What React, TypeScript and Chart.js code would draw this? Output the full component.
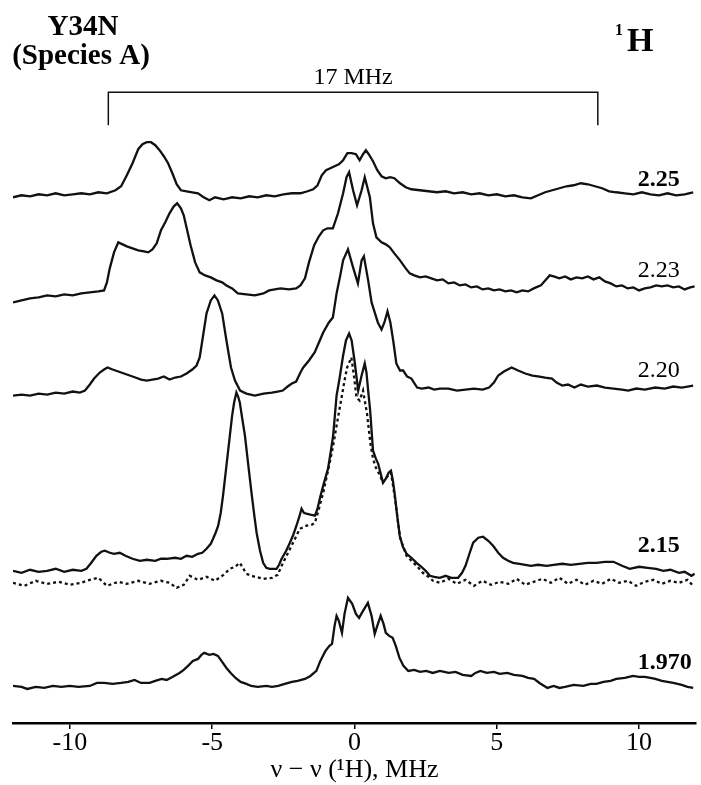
import { useEffect, useRef } from "react";
import { Chart, registerables } from "chart.js";
Chart.register(...registerables);

const FONT = '"Liberation Serif", "Times New Roman", serif';
const X_MIN = -12;
const X_MAX = 12;
const X_TICKS = [-10, -5, 0, 5, 10];

// spectra: [frequency offset (MHz), intensity (a.u.)]
const TRACE_225: [number, number][] = [[-12,-2],[-11.7,0],[-11.4,-1],[-11.1,1],[-10.8,0],[-10.5,2],[-10.2,0],[-9.9,1],[-9.6,2],[-9.3,1],[-9.0,3],[-8.7,2],[-8.4,5],[-8.2,9],[-8.0,20],[-7.8,32],[-7.6,46],[-7.45,51],[-7.3,53],[-7.15,53],[-7.0,50],[-6.85,45],[-6.7,39],[-6.55,32],[-6.4,22],[-6.25,11],[-6.1,5],[-5.9,4],[-5.7,3],[-5.5,2],[-5.3,-2],[-5.1,-5],[-4.9,-2],[-4.6,-4],[-4.3,-2],[-4.0,-3],[-3.7,-1],[-3.4,-2],[-3.1,0],[-2.8,-1],[-2.5,1],[-2.2,2],[-1.9,2],[-1.65,4],[-1.45,6],[-1.3,10],[-1.15,20],[-1.0,25],[-0.85,27],[-0.7,29],[-0.55,31],[-0.4,35],[-0.25,42],[-0.1,42],[0.05,41],[0.18,35],[0.3,41],[0.4,45],[0.5,41],[0.65,34],[0.8,25],[0.95,19],[1.1,17],[1.25,18],[1.4,17],[1.6,12],[1.8,8],[2.0,6],[2.3,5],[2.6,4],[2.9,3],[3.2,4],[3.5,2],[3.8,3],[4.1,1],[4.4,2],[4.7,0],[5.0,1],[5.3,-1],[5.6,0],[5.9,-2],[6.2,-3],[6.45,0],[6.7,3],[6.95,5],[7.2,7],[7.45,9],[7.7,10],[7.95,12],[8.2,11],[8.45,9],[8.7,7],[8.95,4],[9.2,3],[9.5,2],[9.8,1],[10.1,3],[10.4,1],[10.7,0],[11.0,2],[11.3,0],[11.6,1],[11.9,3]];

const TRACE_223: [number, number][] = [[-12,-10],[-11.7,-8],[-11.4,-6],[-11.1,-5],[-10.8,-3],[-10.5,-4],[-10.2,-2],[-9.9,-3],[-9.6,-1],[-9.3,0],[-9.0,1],[-8.8,2],[-8.7,10],[-8.6,24],[-8.45,40],[-8.3,50],[-8.15,48],[-8.0,46],[-7.8,44],[-7.6,42],[-7.4,41],[-7.25,40],[-7.1,43],[-6.95,49],[-6.8,62],[-6.65,70],[-6.5,79],[-6.35,86],[-6.23,89],[-6.1,84],[-6.0,77],[-5.88,62],[-5.76,47],[-5.6,30],[-5.44,20],[-5.25,17],[-5.05,15],[-4.85,12],[-4.65,10],[-4.5,7],[-4.3,4],[-4.1,-1],[-3.8,-2],[-3.5,-3],[-3.2,-1],[-3.0,2],[-2.8,3],[-2.6,4],[-2.3,3],[-2.05,4],[-1.9,7],[-1.74,14],[-1.6,30],[-1.42,47],[-1.25,56],[-1.1,62],[-0.95,64],[-0.76,64],[-0.58,79],[-0.4,99],[-0.28,115],[-0.19,120],[-0.05,102],[0.09,87],[0.25,102],[0.36,115],[0.54,95],[0.65,69],[0.77,55],[0.95,50],[1.1,48],[1.24,45],[1.4,39],[1.6,32],[1.8,24],[1.94,19],[2.1,17],[2.3,15],[2.5,16],[2.7,14],[2.9,12],[3.1,13],[3.3,9],[3.5,10],[3.7,7],[3.9,8],[4.1,5],[4.3,6],[4.5,3],[4.7,4],[4.9,2],[5.1,3],[5.3,1],[5.5,2],[5.7,0],[5.9,2],[6.1,1],[6.3,4],[6.55,7],[6.7,12],[6.86,17],[7.0,16],[7.2,14],[7.4,16],[7.6,13],[7.8,15],[8.0,14],[8.2,16],[8.4,13],[8.6,15],[8.8,11],[9.0,9],[9.2,6],[9.4,7],[9.6,4],[9.8,5],[10.0,2],[10.2,4],[10.4,5],[10.6,7],[10.8,6],[11.0,7],[11.2,5],[11.4,6],[11.6,3],[11.8,5],[11.95,6]];

const TRACE_220: [number, number][] = [[-12,-5],[-11.7,-4],[-11.4,-5],[-11.1,-3],[-10.8,-4],[-10.5,-2],[-10.2,-3],[-9.9,-1],[-9.65,-2],[-9.47,0],[-9.3,6],[-9.15,12],[-8.95,18],[-8.8,21],[-8.68,23],[-8.5,21],[-8.3,19],[-8.1,17],[-7.9,15],[-7.7,13],[-7.5,11],[-7.3,10],[-7.1,11],[-6.9,12],[-6.7,14],[-6.5,11],[-6.3,13],[-6.1,14],[-5.9,17],[-5.7,21],[-5.55,25],[-5.44,33],[-5.32,55],[-5.2,77],[-5.05,90],[-4.92,95],[-4.8,90],[-4.65,77],[-4.5,50],[-4.34,23],[-4.2,10],[-4.02,0],[-3.8,-3],[-3.5,-5],[-3.2,-3],[-2.9,-2],[-2.7,-1],[-2.52,0],[-2.35,4],[-2.2,7],[-2.05,9],[-1.9,18],[-1.8,23],[-1.6,30],[-1.4,38],[-1.25,48],[-1.1,58],[-0.9,68],[-0.76,73],[-0.63,97],[-0.5,115],[-0.4,130],[-0.23,141],[-0.05,123],[0.12,107],[0.25,130],[0.33,134],[0.48,110],[0.6,88],[0.71,78],[0.82,68],[0.95,61],[1.05,68],[1.16,79],[1.26,68],[1.36,50],[1.47,27],[1.6,20],[1.71,20],[1.85,14],[2.0,12],[2.2,3],[2.37,2],[2.6,3],[2.8,1],[3.0,2],[3.3,2],[3.6,0],[3.9,1],[4.2,2],[4.5,1],[4.73,3],[4.9,8],[5.05,15],[5.25,19],[5.52,23],[5.75,20],[6.0,17],[6.25,15],[6.5,14],[6.7,13],[6.94,12],[7.1,8],[7.3,5],[7.5,6],[7.73,3],[7.95,6],[8.2,4],[8.52,5],[8.8,3],[9.1,2],[9.4,1],[9.62,0],[9.9,2],[10.2,1],[10.57,3],[10.9,2],[11.2,4],[11.5,3],[11.9,5]];

const TRACE_215: [number, number][] = [[-12,0],[-11.7,-2],[-11.4,1],[-11.1,-1],[-10.8,0],[-10.5,2],[-10.2,-1],[-9.9,1],[-9.6,0],[-9.42,2],[-9.25,8],[-9.07,15],[-8.9,19],[-8.77,20],[-8.6,18],[-8.45,17],[-8.25,18],[-8.05,15],[-7.8,12],[-7.54,10],[-7.3,11],[-7.0,10],[-6.8,12],[-6.6,12],[-6.3,13],[-6.1,12],[-5.9,15],[-5.7,14],[-5.5,17],[-5.35,18],[-5.2,22],[-5.05,27],[-4.97,32],[-4.88,38],[-4.79,45],[-4.7,58],[-4.62,75],[-4.5,105],[-4.38,135],[-4.3,155],[-4.23,168],[-4.15,178],[-4.09,174],[-4.03,168],[-3.95,153],[-3.85,135],[-3.73,105],[-3.62,78],[-3.52,55],[-3.44,38],[-3.32,20],[-3.21,8],[-3.1,3],[-2.98,2],[-2.74,2],[-2.65,6],[-2.56,12],[-2.4,20],[-2.27,28],[-2.15,36],[-2.04,45],[-1.95,53],[-1.86,62],[-1.78,58],[-1.69,57],[-1.55,56],[-1.39,55],[-1.3,62],[-1.22,72],[-1.08,87],[-0.93,102],[-0.84,118],[-0.75,135],[-0.69,155],[-0.63,175],[-0.52,193],[-0.4,215],[-0.3,230],[-0.19,237],[-0.1,230],[0.0,210],[0.13,180],[0.25,195],[0.36,207],[0.42,198],[0.48,180],[0.55,160],[0.6,140],[0.65,120],[0.75,112],[0.83,107],[0.92,97],[1.0,88],[1.1,92],[1.2,98],[1.28,100],[1.35,90],[1.42,75],[1.5,55],[1.59,35],[1.7,24],[1.83,17],[2.0,13],[2.18,8],[2.35,4],[2.5,0],[2.65,-5],[2.8,-6],[3.0,-7],[3.2,-5],[3.4,-7],[3.64,-7],[3.78,-2],[3.9,5],[4.05,18],[4.17,28],[4.35,33],[4.52,34],[4.7,30],[4.87,25],[5.05,18],[5.22,13],[5.4,10],[5.57,8],[5.8,7],[6.0,6],[6.2,5],[6.45,6],[6.75,5],[7.0,6],[7.3,7],[7.6,6],[7.9,7],[8.2,8],[8.5,8],[8.8,9],[9.1,9],[9.4,5],[9.67,2],[10.0,4],[10.3,3],[10.6,2],[10.85,0],[11.1,1],[11.4,-2],[11.6,-1],[11.84,-5],[11.95,-3]];

const TRACE_215_DOTTED: [number, number][] = [[-12,-12],[-11.6,-15],[-11.2,-10],[-10.8,-13],[-10.4,-11],[-10.0,-14],[-9.6,-12],[-9.3,-9],[-9.0,-7],[-8.7,-15],[-8.3,-11],[-8.0,-13],[-7.6,-10],[-7.2,-13],[-6.8,-10],[-6.5,-12],[-6.25,-17],[-6.0,-14],[-5.79,-5],[-5.5,-9],[-5.2,-6],[-4.9,-10],[-4.6,-4],[-4.38,2],[-4.2,4],[-4.03,8],[-3.8,-3],[-3.5,-6],[-3.2,-8],[-2.9,-7],[-2.7,-4],[-2.51,8],[-2.3,20],[-2.16,28],[-1.92,42],[-1.69,45],[-1.5,46],[-1.39,48],[-1.25,62],[-1.1,78],[-0.87,108],[-0.75,125],[-0.63,145],[-0.46,172],[-0.35,190],[-0.26,203],[-0.11,213],[-0.02,195],[0.07,173],[0.18,170],[0.3,180],[0.44,157],[0.56,127],[0.65,112],[0.75,103],[0.9,95],[1.0,88],[1.15,94],[1.28,98],[1.42,73],[1.6,33],[1.83,15],[2.0,10],[2.18,5],[2.4,-2],[2.6,-6],[2.76,-10],[3.0,-12],[3.3,-8],[3.6,-13],[3.9,-9],[4.2,-15],[4.5,-10],[4.8,-14],[5.1,-11],[5.4,-13],[5.7,-8],[6.0,-14],[6.3,-11],[6.6,-8],[6.9,-12],[7.2,-7],[7.5,-13],[7.8,-9],[8.1,-14],[8.4,-10],[8.7,-13],[9.0,-8],[9.3,-12],[9.6,-10],[9.9,-15],[10.2,-11],[10.5,-9],[10.8,-13],[11.1,-10],[11.4,-12],[11.7,-9],[11.9,-15]];

const TRACE_197: [number, number][] = [[-12,0],[-11.7,-1],[-11.5,-3],[-11.2,-1],[-10.9,-2],[-10.6,0],[-10.3,-1],[-10.0,0],[-9.7,-1],[-9.3,0],[-9.05,3],[-8.8,3],[-8.5,2],[-8.2,3],[-7.95,4],[-7.73,6],[-7.5,3],[-7.2,3],[-7.0,5],[-6.78,7],[-6.6,6],[-6.4,9],[-6.15,13],[-6.0,16],[-5.85,20],[-5.68,25],[-5.5,27],[-5.38,31],[-5.28,33],[-5.1,31],[-4.95,32],[-4.8,30],[-4.65,24],[-4.5,18],[-4.35,13],[-4.18,8],[-4.0,4],[-3.8,2],[-3.63,0],[-3.4,-1],[-3.1,0],[-2.9,-1],[-2.68,0],[-2.45,2],[-2.2,4],[-2.0,5],[-1.74,7],[-1.55,10],[-1.34,15],[-1.2,25],[-1.02,35],[-0.88,40],[-0.79,42],[-0.7,60],[-0.63,70],[-0.55,65],[-0.44,53],[-0.35,72],[-0.23,88],[-0.08,82],[0.05,72],[0.16,68],[0.3,75],[0.47,83],[0.6,70],[0.71,52],[0.8,60],[0.92,70],[1.02,62],[1.1,53],[1.22,50],[1.34,48],[1.45,40],[1.58,28],[1.72,20],[1.89,15],[2.1,16],[2.3,14],[2.52,15],[2.75,13],[3.0,15],[3.31,13],[3.55,14],[3.8,11],[4.1,10],[4.25,13],[4.42,15],[4.65,13],[4.9,14],[5.1,12],[5.37,13],[5.6,11],[5.9,10],[6.1,8],[6.31,7],[6.5,3],[6.78,-2],[7.0,0],[7.2,-2],[7.4,-1],[7.7,1],[8.04,0],[8.3,2],[8.5,2],[8.75,4],[9.0,5],[9.2,7],[9.5,8],[9.79,10],[10.0,9],[10.2,9],[10.4,8],[10.57,7],[10.8,5],[11.0,4],[11.2,3],[11.5,1],[11.7,-1],[11.9,-2]];

// g-values and their vertical stacking offsets
const G_LABELS = ["2.25", "2.23", "2.20", "2.15", "1.970"];
const G_BOLD = [true, false, false, true, true];
const G_OFFSETS = [527, 430, 332, 152, 37];
const G_LABEL_LIFT = [15, 22, 20, 25, 23];
const G_LABEL_X = 9.95;

// 17 MHz bracket
const BRACKET_X = [-8.65, 8.55];
const BRACKET_Y = [597, 630];
const BRACKET_TEXT = "17 MHz";

const Y_MAX = 722;

function shift(trace: [number, number][], off: number) {
  return trace.map(([x, y]) => ({ x, y: y + off }));
}

const annotations = {
  id: "annotations",
  afterDatasetsDraw(chart: any) {
    const { ctx, scales } = chart;
    const xs = scales.x;
    const ys = scales.y;
    ctx.save();
    ctx.fillStyle = "#000";
    ctx.textBaseline = "middle";
    ctx.textAlign = "left";
    G_LABELS.forEach((t, i) => {
      ctx.font = `${G_BOLD[i] ? "bold " : ""}24px ${FONT}`;
      ctx.fillText(t, xs.getPixelForValue(G_LABEL_X), ys.getPixelForValue(G_OFFSETS[i] + G_LABEL_LIFT[i]));
    });
    ctx.textAlign = "center";
    ctx.font = `24px ${FONT}`;
    ctx.fillText(BRACKET_TEXT, xs.getPixelForValue((BRACKET_X[0] + BRACKET_X[1]) / 2), ys.getPixelForValue(BRACKET_Y[1] + 14));
    ctx.font = `bold 29px ${FONT}`;
    ctx.fillText("Y34N", 83, 28);
    ctx.fillText("(Species A)", 81, 57);
    ctx.textAlign = "left";
    ctx.font = `bold 34px ${FONT}`;
    ctx.fillText("H", 627, 42);
    ctx.font = `bold 16px ${FONT}`;
    ctx.fillText("1", 615, 31);
    ctx.restore();
  },
};

export default function App() {
  const ref = useRef<HTMLCanvasElement>(null);
  useEffect(() => {
    document.body.style.margin = "0";
    const solid = (data: any) => ({
      data,
      borderColor: "#111",
      borderWidth: 2.3,
      pointRadius: 0,
      tension: 0,
      fill: false,
    });
    const chart = new Chart(ref.current!, {
      type: "line",
      data: {
        datasets: [
          solid(shift(TRACE_225, G_OFFSETS[0])),
          solid(shift(TRACE_223, G_OFFSETS[1])),
          solid(shift(TRACE_220, G_OFFSETS[2])),
          { ...solid(shift(TRACE_215_DOTTED, G_OFFSETS[3])), borderDash: [3, 3] },
          solid(shift(TRACE_215, G_OFFSETS[3])),
          solid(shift(TRACE_197, G_OFFSETS[4])),
          {
            ...solid([
              { x: BRACKET_X[0], y: BRACKET_Y[0] },
              { x: BRACKET_X[0], y: BRACKET_Y[1] },
              { x: BRACKET_X[1], y: BRACKET_Y[1] },
              { x: BRACKET_X[1], y: BRACKET_Y[0] },
            ]),
            borderWidth: 1.5,
          },
        ],
      },
      options: {
        responsive: false,
        animation: false,
        layout: { padding: { left: 13, right: 5, top: 0, bottom: 2 } },
        plugins: { legend: { display: false }, tooltip: { enabled: false } },
        scales: {
          x: {
            type: "linear",
            min: X_MIN,
            max: X_MAX,
            afterBuildTicks: (s: any) => {
              s.ticks = X_TICKS.map((v) => ({ value: v }));
            },
            grid: { drawOnChartArea: false, drawTicks: true, tickLength: 6, color: "#000", lineWidth: 1.5 },
            border: { display: true, color: "#000", width: 2.5 },
            ticks: { color: "#000", font: { family: FONT, size: 26, lineHeight: 1 }, padding: 1, maxRotation: 0, autoSkip: false },
            title: {
              display: true,
              text: "ν − ν (¹H), MHz",
              color: "#000",
              font: { family: FONT, size: 26, lineHeight: 1 },
              padding: { top: 0, bottom: 0 },
            },
          },
          y: { display: false, min: 0, max: Y_MAX },
        },
      },
      plugins: [annotations],
    });
    return () => chart.destroy();
  }, []);
  return (
    <div style={{ width: 701, height: 785 }}>
      <canvas ref={ref} width={701} height={785} />
    </div>
  );
}
